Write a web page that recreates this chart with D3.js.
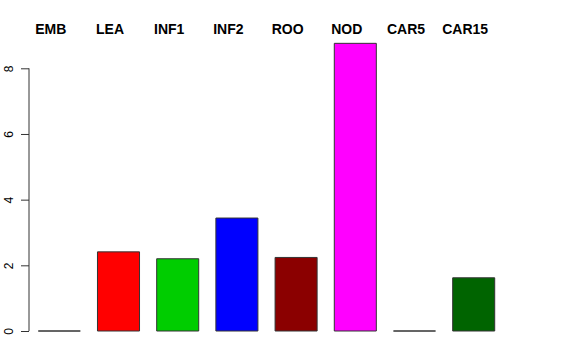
<!DOCTYPE html>
<html><head><meta charset="utf-8">
<script src="https://cdn.jsdelivr.net/npm/d3@7"></script>
<style>body{margin:0;background:#fff}svg{display:block}</style>
</head><body>
<script>
const categories = ["EMB","LEA","INF1","INF2","ROO","NOD","CAR5","CAR15"];
const values = [0, 2.41, 2.20, 3.44, 2.24, 8.76, 0, 1.62];
const colors = ["#000000","#FF0000","#00CD00","#0000FF","#8B0000","#FF00FF","#FFFFFF","#006400"];
const yTicks = [0,2,4,6,8];

const W=576,H=360;
const svg=d3.select("body").append("svg").attr("width",W).attr("height",H);
const x=d3.scaleBand().domain(categories).range([29.7,503.3]).paddingInner(0.29).paddingOuter(0.145);
const y=d3.scaleLinear().domain([0,8]).range([331,68.3]);

svg.append("g").selectAll("path").data(categories).join("path")
  .attr("d",(d,i)=>{
    const x0=x(d), x1=x(d)+x.bandwidth(), y0=y(0), y1=y(values[i]);
    return "M"+x0+","+y0+"V"+y1+"H"+x1+"V"+y0+"Z";
  })
  .attr("fill",(d,i)=>colors[i]).attr("stroke","#333").attr("stroke-width",1);

svg.append("g").selectAll("text").data(categories).join("text")
  .attr("x",d=>x(d)+x.bandwidth()/2-8.5).attr("y",34)
  .attr("text-anchor","middle").attr("font-family","Liberation Sans, Arial, sans-serif")
  .attr("font-weight","bold").attr("font-size",14).text(d=>d);

const ax=svg.append("g").attr("transform","translate(29,0)")
  .call(d3.axisLeft(y).tickValues(yTicks).tickSize(8).tickPadding(0).tickFormat(d3.format("d")));
ax.select(".domain").attr("d","M0,"+y(8)+"V"+y(0)).attr("stroke","#333");
ax.selectAll(".tick line").attr("stroke","#333");
ax.selectAll(".tick text").attr("font-family","Liberation Sans, Arial, sans-serif").attr("font-size",12)
  .attr("fill","#000").attr("text-anchor","middle").attr("dy",null)
  .attr("transform","translate(-16.5,0) rotate(-90)").attr("x",0).attr("y",0);
</script>
</body></html>
